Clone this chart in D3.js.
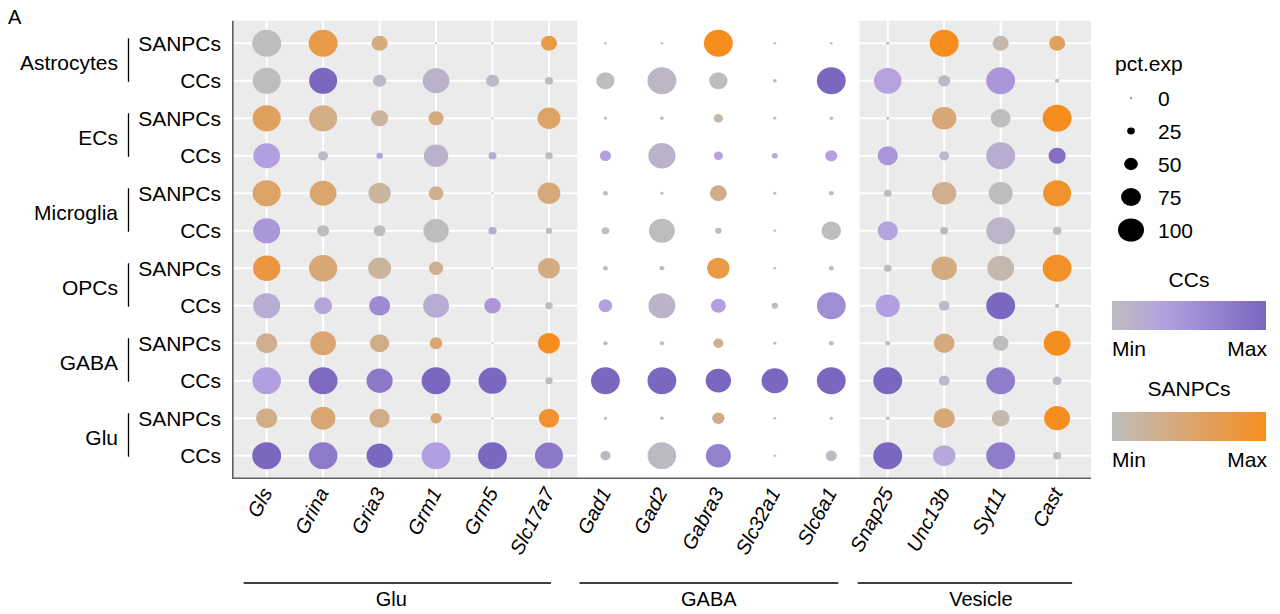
<!DOCTYPE html>
<html><head><meta charset="utf-8">
<script src="https://cdn.jsdelivr.net/npm/d3@7"></script>
<style>body{margin:0;background:#fff}svg{display:block;font-family:"Liberation Sans",Arial,sans-serif}</style>
</head><body><svg id="c" width="1280" height="614"></svg>
<script>
const genes = ["Gls","Grina","Gria3","Grm1","Grm5","Slc17a7","Gad1","Gad2","Gabra3","Slc32a1","Slc6a1","Snap25","Unc13b","Syt11","Cast"];
const geneGroups = [{name:"Glu",first:"Gls",last:"Slc17a7"},{name:"GABA",first:"Gad1",last:"Slc6a1"},{name:"Vesicle",first:"Snap25",last:"Cast"}];
const cellTypes = ["Astrocytes","ECs","Microglia","OPCs","GABA","Glu"];
const conditions = ["SANPCs","CCs"];
const sizeBreaks = [0,25,50,75,100];
// percent expressed, one row per cell type / condition (top to bottom)
const pctExp = [
 [100,100,53,1,1,53,3,3,100,3,3,5,100,53,53],
 [97,97,42,92,42,24,61,100,61,8,100,95,38,100,10],
 [97,97,57,49,1,78,5,8,28,5,8,5,83,67,100],
 [92,30,18,83,23,21,35,94,27,16,38,68,30,100,57],
 [97,92,76,48,1,78,12,5,56,5,12,22,83,82,97],
 [93,38,37,87,24,18,22,89,18,3,66,68,23,100,26],
 [94,98,78,46,1,74,12,12,76,3,12,22,87,92,100],
 [93,60,71,89,54,21,44,93,49,17,100,82,33,100,9],
 [72,88,64,40,1,74,10,10,31,5,12,12,70,52,92],
 [99,100,90,100,97,21,100,100,87,92,100,100,34,100,27],
 [72,84,68,35,1,68,6,8,39,3,6,8,72,59,89],
 [100,99,90,100,100,97,31,99,86,3,35,100,76,100,23]
];
// scaled average expression (0 = Min, 1 = Max)
const avgExp = [
 [0,0.75,0.4,0,0,0.75,0,0,1,0,0,0,1,0.1,0.6],
 [0,1,0.05,0.12,0.05,0,0,0.07,0,0,1,0.3,0.05,0.45,0],
 [0.6,0.35,0.2,0.4,0,0.55,0,0,0.1,0,0,0,0.45,0,1],
 [0.35,0.05,0.3,0.12,0.2,0,0.35,0.12,0.3,0.22,0.33,0.45,0.05,0.18,0.9],
 [0.55,0.5,0.2,0.28,0,0.42,0,0,0.33,0,0,0,0.3,0,0.92],
 [0.45,0,0,0,0.2,0,0,0,0,0,0,0.3,0.05,0.08,0],
 [0.8,0.45,0.2,0.28,0,0.38,0,0,0.75,0,0,0,0.38,0.1,0.93],
 [0.2,0.27,0.6,0.2,0.45,0,0.33,0.1,0.35,0.05,0.55,0.35,0.05,1,0],
 [0.28,0.48,0.33,0.47,0,1,0,0,0.3,0,0,0,0.4,0,1],
 [0.35,0.95,0.8,1,1,0,1,1,1,1,1,1,0.05,0.75,0.05],
 [0.32,0.48,0.33,0.47,0,0.9,0,0,0.33,0,0,0,0.45,0.1,1],
 [1,0.78,1,0.35,1,0.8,0.05,0.05,0.7,0,0.05,1,0.25,0.75,0.05]
];

const rows = [];
cellTypes.forEach(ct => conditions.forEach(cd => rows.push({id: ct + "|" + cd, ct, cd})));

const svg = d3.select("#c");
const P = {l: 232.8, r: 1091, t: 20.8, b: 478.2};
const x = d3.scalePoint().domain(genes).range([P.l, P.r]).padding(0.6);
const y = d3.scalePoint().domain(rows.map(d => d.id)).range([P.t, P.b]).padding(0.6);
const step = x.step();
const rScale = d3.scaleLinear().domain([0,100]).range([0.8,13.5]);
const ASPECT = 1.07;
const colorCC = d3.scaleLinear().domain([0,0.33,1]).range(["#BEBCBF","#B3A1E0","#7A67BF"]);
const colorSAN = d3.scaleLinear().domain([0,1]).range(["#BEBDBD","#F68E1F"]);
const colorOf = {CCs: colorCC, SANPCs: colorSAN};

// background bands (grey for Glu and Vesicle groups)
geneGroups.forEach((g, i) => {
  if (g.name === "GABA") return;
  const x0 = i === 0 ? P.l : x(g.first) - step/2;
  const x1 = i === geneGroups.length - 1 ? P.r : x(g.last) + step/2;
  svg.append("rect").attr("x", x0).attr("y", P.t).attr("width", x1 - x0).attr("height", P.b - P.t).attr("fill", "#EBEBEB");
  const gs = genes.slice(genes.indexOf(g.first), genes.indexOf(g.last) + 1);
  svg.selectAll(null).data(gs).join("line")
    .attr("x1", d => x(d)).attr("x2", d => x(d)).attr("y1", P.t).attr("y2", P.b)
    .attr("stroke", "#fff").attr("stroke-width", 2);
  svg.selectAll(null).data(rows).join("line")
    .attr("x1", x0).attr("x2", x1).attr("y1", d => y(d.id)).attr("y2", d => y(d.id))
    .attr("stroke", "#fff").attr("stroke-width", 2);
});

// dots
const pts = [];
rows.forEach((r, i) => genes.forEach((g, j) => pts.push({row: r, gene: g, pct: pctExp[i][j], v: avgExp[i][j]})));
svg.append("g").selectAll("ellipse").data(pts).join("ellipse")
  .attr("cx", d => x(d.gene)).attr("cy", d => y(d.row.id))
  .attr("rx", d => rScale(d.pct) * ASPECT).attr("ry", d => rScale(d.pct))
  .attr("fill", d => colorOf[d.row.cd](d.v));

// axes lines
svg.append("line").attr("x1", P.l).attr("x2", P.l).attr("y1", P.t).attr("y2", P.b + 0.8).attr("stroke", "#5f5f5f").attr("stroke-width", 1.6);
svg.append("line").attr("x1", P.l - 0.8).attr("x2", P.r).attr("y1", P.b).attr("y2", P.b).attr("stroke", "#5f5f5f").attr("stroke-width", 1.6);

// y labels
svg.append("g").selectAll("text").data(rows).join("text")
  .attr("x", 221).attr("y", d => y(d.id)).attr("dy", "0.36em")
  .attr("text-anchor", "end").attr("font-size", 21).attr("fill", "#000").text(d => d.cd);
// cell type brackets
cellTypes.forEach(ct => {
  const ys = y(ct + "|SANPCs"), yc = y(ct + "|CCs");
  svg.append("line").attr("x1", 128.5).attr("x2", 128.5).attr("y1", ys - 5).attr("y2", yc + 1).attr("stroke", "#000").attr("stroke-width", 1.3);
  svg.append("text").attr("x", 118).attr("y", (ys + yc) / 2).attr("dy", "0.36em").attr("text-anchor", "end")
    .attr("font-size", 21).text(ct);
});

// x labels
svg.append("g").selectAll("text").data(genes).join("text")
  .attr("transform", d => `translate(${x(d)},${P.b + 11}) rotate(-62)`)
  .attr("text-anchor", "end").attr("dy", "0.35em").attr("font-style", "italic").attr("font-size", 20).text(d => d);

// group annotation
const groupLine = {Glu: [-23, 2, -6], GABA: [-26, 7, 0], Vesicle: [-30, 15, 16]};
geneGroups.forEach(g => {
  const o = groupLine[g.name];
  const a = x(g.first) + o[0], b = x(g.last) + o[1];
  svg.append("line").attr("x1", a).attr("x2", b).attr("y1", 583).attr("y2", 583).attr("stroke", "#000").attr("stroke-width", 1.3);
  svg.append("text").attr("x", (a + b) / 2 + o[2]).attr("y", 599).attr("dy", "0.36em").attr("text-anchor", "middle").attr("font-size", 20).text(g.name);
});

// panel tag
svg.append("text").attr("x", 8).attr("y", 24).attr("font-size", 20).text("A");

// size legend
svg.append("text").attr("x", 1115).attr("y", 63).attr("dy", "0.36em").attr("font-size", 21).text("pct.exp");
const ly = d3.scalePoint().domain(sizeBreaks).range([98, 230]);
svg.append("g").selectAll("ellipse").data(sizeBreaks).join("ellipse")
  .attr("cx", 1131).attr("cy", d => ly(d)).attr("rx", d => rScale(d) * ASPECT * 0.9).attr("ry", d => rScale(d) * 0.86).attr("fill", "#000");
svg.append("g").selectAll("text").data(sizeBreaks).join("text")
  .attr("x", 1158).attr("y", d => ly(d)).attr("dy", "0.36em").attr("font-size", 21).text(d => d);

// colour bars
const defs = svg.append("defs");
function colorBar(id, title, scale, yTitle, yBar) {
  const gr = defs.append("linearGradient").attr("id", id);
  d3.range(0, 1.0001, 0.05).forEach(t => gr.append("stop").attr("offset", t).attr("stop-color", scale(t)));
  svg.append("text").attr("x", 1189).attr("y", yTitle).attr("dy", "0.36em").attr("text-anchor", "middle").attr("font-size", 21).text(title);
  svg.append("rect").attr("x", 1112).attr("y", yBar).attr("width", 154).attr("height", 29).attr("fill", `url(#${id})`);
  svg.append("text").attr("x", 1112).attr("y", yBar + 47).attr("dy", "0.36em").attr("font-size", 21).text("Min");
  svg.append("text").attr("x", 1267).attr("y", yBar + 47).attr("dy", "0.36em").attr("text-anchor", "end").attr("font-size", 21).text("Max");
}
colorBar("gCC", "CCs", colorCC, 279, 301);
colorBar("gSAN", "SANPCs", colorSAN, 388, 412);
</script></body></html>
